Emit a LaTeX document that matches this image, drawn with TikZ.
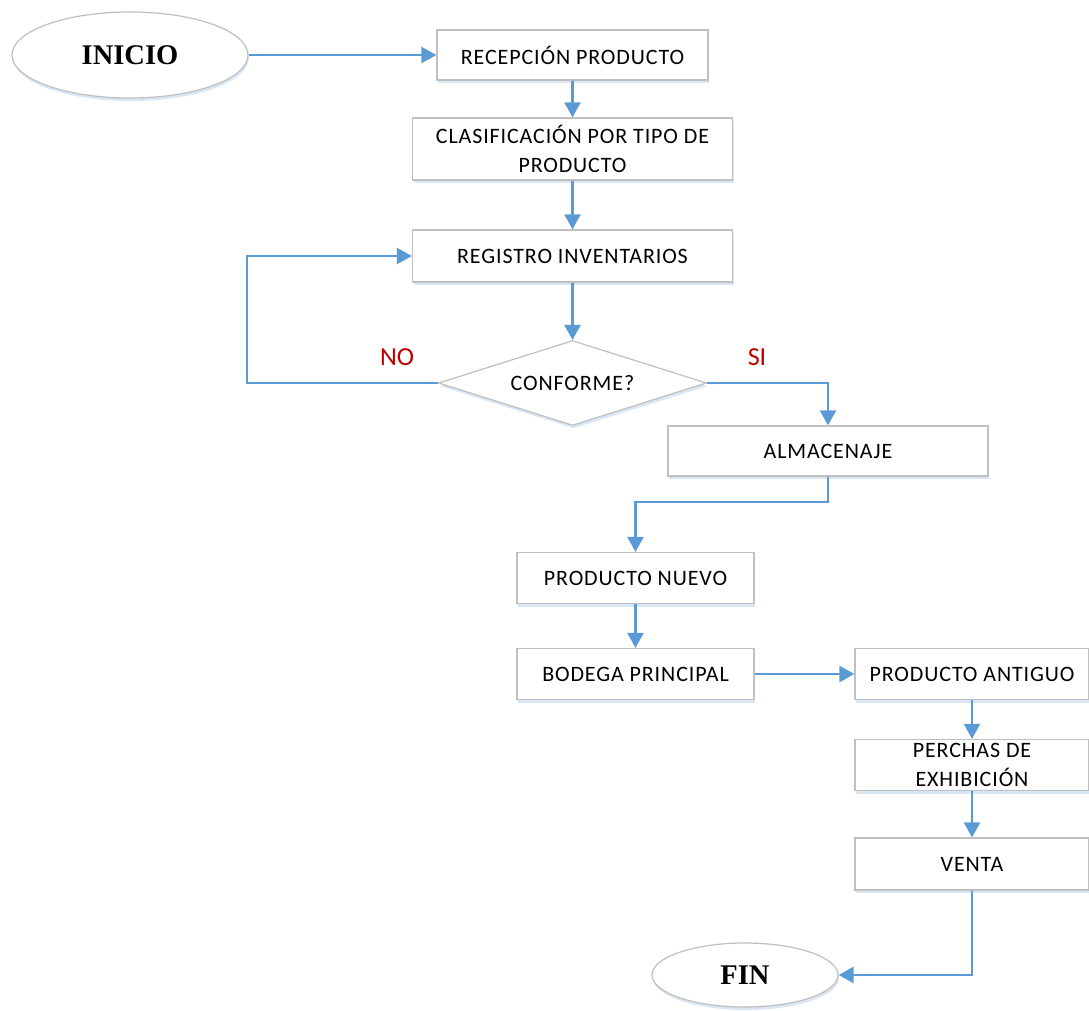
\documentclass[tikz,border=0pt]{standalone}
\usepackage{fontspec}
\setmainfont{Carlito}
\newfontfamily\boxfont[LetterSpace=4]{Carlito}
\newfontfamily\termfont{Liberation Serif}
\usetikzlibrary{arrows.meta,shapes.geometric,shadows}
\definecolor{flow}{HTML}{5B9BD5}
\definecolor{rim}{HTML}{BFBFBF}
\definecolor{glow}{HTML}{C9DCF0}
\definecolor{answer}{HTML}{C00000}
\begin{document}
\begin{tikzpicture}[x=1pt,y=-1pt,
  shade/.style={drop shadow={shadow xshift=1pt,shadow yshift=-3pt,fill=glow,opacity=.7}},
  stepbox/.style={draw=rim,line width=1.2pt,fill=white,shade,rectangle,inner sep=2pt,
    align=center,font=\boxfont\fontsize{22}{29}\selectfont},
  terminal/.style={draw=rim,line width=1.2pt,fill=white,shade,ellipse,inner sep=0pt,
    font=\termfont\bfseries\fontsize{28.5}{32}\selectfont},
  decision/.style={draw=rim,line width=1.2pt,fill=white,shade,diamond,inner sep=0pt,
    aspect=3.15,font=\boxfont\fontsize{22}{26}\selectfont},
  flowline/.style={draw=flow,line width=2.4pt,-{Triangle[length=15pt,width=16pt]}},
  tag/.style={text=answer,font=\fontsize{26}{30}\selectfont}]
\useasboundingbox (0,0) rectangle (1089,1010);

% start and end
\node[terminal,minimum width=236,minimum height=86] (inicio) at (130,55) {INICIO};
\node[terminal,minimum width=186,minimum height=64] (fin) at (745,975) {FIN};

% process steps
\node[stepbox,minimum width=271,minimum height=50] (recep) at (572.5,55) {RECEPCIÓN PRODUCTO};
\node[stepbox,minimum width=320,minimum height=62] (clasif) at (572.5,149) {CLASIFICACIÓN POR TIPO DE\\PRODUCTO};
\node[stepbox,minimum width=320,minimum height=52] (regis) at (572.5,256) {REGISTRO INVENTARIOS};
\node[decision,minimum width=268,minimum height=85] (conf) at (572.5,383) {CONFORME?};
\node[stepbox,minimum width=320,minimum height=50] (almac) at (828,451) {ALMACENAJE};
\node[stepbox,minimum width=237,minimum height=51] (nuevo) at (635.5,578) {PRODUCTO NUEVO};
\node[stepbox,minimum width=237,minimum height=51] (bodega) at (635.5,674) {BODEGA PRINCIPAL};
\node[stepbox,minimum width=234,minimum height=51] (antiguo) at (972,674) {PRODUCTO ANTIGUO};
\node[stepbox,minimum width=234,minimum height=51] (perchas) at (972,765) {PERCHAS DE\\EXHIBICIÓN};
\node[stepbox,minimum width=234,minimum height=52] (venta) at (972,864) {VENTA};

% bends of the routed connectors
\coordinate (noturn) at (247,383);
\coordinate (siturn) at (828,383);
\coordinate (almturn) at (635.5,502);

% connectors
\draw[flowline] (inicio.east) -- (recep.west);
\draw[flowline] (recep.south) -- (clasif.north);
\draw[flowline] (clasif.south) -- (regis.north);
\draw[flowline] (regis.south) -- (conf.north);
\draw[flowline] (conf.west) -- (noturn) |- (regis.west);
\draw[flowline] (conf.east) -- (siturn) -- (almac.north);
\draw[flowline] (almac.south) |- (almturn) -- (nuevo.north);
\draw[flowline] (nuevo.south) -- (bodega.north);
\draw[flowline] (bodega.east) -- (antiguo.west);
\draw[flowline] (antiguo.south) -- (perchas.north);
\draw[flowline] (perchas.south) -- (venta.north);
\draw[flowline] (venta.south) |- (fin.east);

% decision answers
\node[tag] (no) at (397,357) {NO};
\node[tag] (si) at (757,357) {SI};
\end{tikzpicture}
\end{document}
